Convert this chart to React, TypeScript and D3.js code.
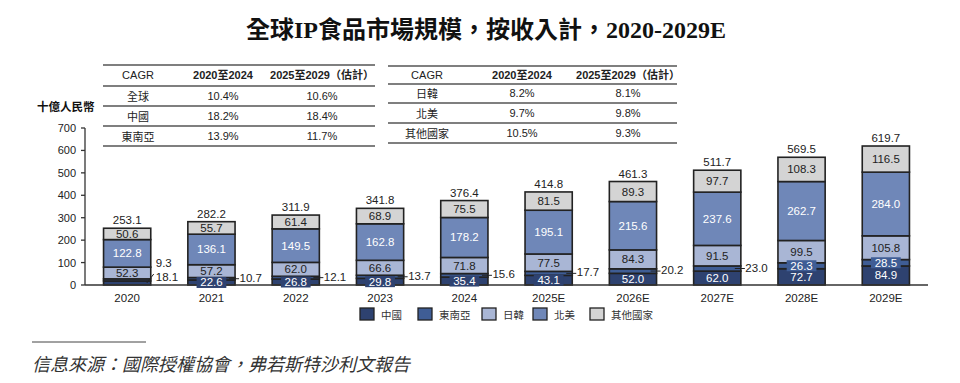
import React from 'react';
import * as d3 from 'd3';

const years = ['2020', '2021', '2022', '2023', '2024', '2025E', '2026E', '2027E', '2028E', '2029E'];
const china = [18.1, 22.6, 26.8, 29.8, 35.4, 43.1, 52.0, 62.0, 72.7, 84.9];
const seAsia = [9.3, 10.7, 12.1, 13.7, 15.6, 17.7, 20.2, 23.0, 26.3, 28.5];
const japanKorea = [52.3, 57.2, 62.0, 66.6, 71.8, 77.5, 84.3, 91.5, 99.5, 105.8];
const northAmerica = [122.8, 136.1, 149.5, 162.8, 178.2, 195.1, 215.6, 237.6, 262.7, 284.0];
const others = [50.6, 55.7, 61.4, 68.9, 75.5, 81.5, 89.3, 97.7, 108.3, 116.5];
const totals = [253.1, 282.2, 311.9, 341.8, 376.4, 414.8, 461.3, 511.7, 569.5, 619.7];
const yTicks = [0, 100, 200, 300, 400, 500, 600, 700];

const seriesKeys = ['china', 'seAsia', 'japanKorea', 'northAmerica', 'others'];
const seriesNames = ['中國', '東南亞', '日韓', '北美', '其他國家'];
const seriesColors = ['#2e4270', '#3f5d95', '#a9b6d5', '#6f87b8', '#d4d4d4'];
const seriesTextColors = ['#ffffff', '#ffffff', '#222222', '#ffffff', '#222222'];

const cagrRows1 = [
  ['全球', '10.4%', '10.6%'],
  ['中國', '18.2%', '18.4%'],
  ['東南亞', '13.9%', '11.7%'],
];
const cagrRows2 = [
  ['日韓', '8.2%', '8.1%'],
  ['北美', '9.7%', '9.8%'],
  ['其他國家', '10.5%', '9.3%'],
];
const cagrHeader = ['CAGR', '2020至2024', '2025至2029（估計）'];

const FONT = "'Liberation Sans', Arial, 'Noto Sans CJK TC', sans-serif";
const CJK = "'Noto Sans CJK TC', 'Liberation Sans', sans-serif";

export default function App() {
  const data = years.map((y, i) => ({
    year: y,
    china: china[i],
    seAsia: seAsia[i],
    japanKorea: japanKorea[i],
    northAmerica: northAmerica[i],
    others: others[i],
  }));
  const stacked = d3.stack<any>().keys(seriesKeys)(data);

  const x = d3.scaleBand<string>().domain(years).range([85, 928]).paddingInner(0.44).paddingOuter(0.22);
  const y = d3.scaleLinear().domain([0, 700]).range([285, 128]);
  const bw = x.bandwidth();

  const textW = (s: string, fs: number) => s.length * fs * 0.56;

  const table = (
    rows: string[][],
    x0: number,
    x1: number,
    colX: number[],
    lineYs: number[],
    textYs: number[]
  ) => (
    <g>
      {lineYs.map((ly, i) => (
        <line key={'l' + i} x1={x0} x2={x1} y1={ly} y2={ly} stroke="#555" strokeWidth={1.3} />
      ))}
      {cagrHeader.map((h, j) => (
        <text
          key={'h' + j}
          x={colX[j]}
          y={textYs[0]}
          textAnchor="middle"
          dominantBaseline="central"
          fontFamily={FONT}
          fontSize={11}
          fontWeight={j === 0 ? 'normal' : 'bold'}
          fill="#222"
        >
          {h}
        </text>
      ))}
      {rows.map((r, i) =>
        r.map((c, j) => (
          <text
            key={i + '-' + j}
            x={colX[j]}
            y={textYs[i + 1]}
            textAnchor="middle"
            dominantBaseline="central"
            fontFamily={j === 0 ? CJK : FONT}
            fontSize={11}
            fill="#222"
          >
            {c}
          </text>
        ))
      )}
    </g>
  );

  const legendX = [360, 418, 482, 533, 590];

  return (
    <svg
      width={960}
      height={383}
      style={{ position: 'absolute', left: 0, top: 0, background: '#fff' }}
    >
      <text
        x={486}
        y={38}
        textAnchor="middle"
        fontFamily="'Liberation Serif', 'Noto Sans CJK TC', serif"
        fontWeight="bold"
        fontSize={24}
        fill="#111"
      >
        全球IP食品市場規模，按收入計，2020-2029E
      </text>

      {table(cagrRows1, 103, 375, [138, 223, 322], [65, 86, 106, 126, 146], [75, 96, 116, 136])}
      {table(cagrRows2, 388, 677, [427, 522, 628], [66, 84, 103, 123, 143], [75, 93, 113, 133])}

      <text x={37} y={106} dominantBaseline="central" fontFamily={CJK} fontWeight="bold" fontSize={11.5} fill="#111">
        十億人民幣
      </text>

      {/* y axis */}
      <line x1={85} x2={85} y1={y(700)} y2={y(0)} stroke="#333" strokeWidth={1.3} />
      {yTicks.map((t) => (
        <g key={t}>
          <line x1={81} x2={85} y1={y(t)} y2={y(t)} stroke="#333" strokeWidth={1.3} />
          <text x={76} y={y(t)} textAnchor="end" dominantBaseline="central" fontFamily={FONT} fontSize={11} fill="#222">
            {t}
          </text>
        </g>
      ))}

      {/* bars */}
      {stacked.map((s, si) => (
        <g key={s.key}>
          {s.map((d, i) => (
            <rect
              key={i}
              x={x(years[i])!}
              y={y(d[1])}
              width={bw}
              height={y(d[0]) - y(d[1])}
              fill={seriesColors[si]}
              stroke="#222"
              strokeWidth={1.6}
            />
          ))}
        </g>
      ))}

      {/* x axis */}
      <line x1={85} x2={928} y1={y(0)} y2={y(0)} stroke="#333" strokeWidth={1.4} />
      {years.map((yr) => (
        <text
          key={yr}
          x={x(yr)! + bw / 2}
          y={298}
          textAnchor="middle"
          dominantBaseline="central"
          fontFamily={FONT}
          fontSize={11.5}
          fill="#222"
        >
          {yr}
        </text>
      ))}

      {/* segment labels */}
      {stacked.map((s, si) =>
        s.map((d, i) => {
          const val = (data[i] as any)[s.key] as number;
          const label = val.toFixed(1);
          const cx = x(years[i])! + bw / 2;
          const top = y(d[1]);
          const bot = y(d[0]);
          const cy = (top + bot) / 2;
          const h = bot - top;
          const right = x(years[i])! + bw;
          if (si === 0 && i === 0) {
            return (
              <g key={s.key + i}>
                <line x1={right - 4} y1={bot - 2} x2={right + 3} y2={bot - 11} stroke="#222" strokeWidth={1} />
                <text x={right + 5} y={277} dominantBaseline="central" fontFamily={FONT} fontSize={11.5} fill="#222">
                  {label}
                </text>
              </g>
            );
          }
          if (si === 1 && i === 0) {
            return (
              <text key={s.key + i} x={right + 5} y={263} dominantBaseline="central" fontFamily={FONT} fontSize={11.5} fill="#222">
                {label}
              </text>
            );
          }
          if (si === 1 && i <= 7) {
            return (
              <g key={s.key + i}>
                <line x1={right - 6} x2={right + 4} y1={cy} y2={cy} stroke="#222" strokeWidth={1} />
                <text x={right + 4.5} y={cy - 1} dominantBaseline="central" fontFamily={FONT} fontSize={11.5} fill="#222">
                  {label}
                </text>
              </g>
            );
          }
          const needBox = h < 11;
          const tw = textW(label, 11.5);
          return (
            <g key={s.key + i}>
              {needBox && (
                <rect x={cx - tw / 2 - 2} y={cy - 5.5} width={tw + 4} height={11} fill={seriesColors[si]} />
              )}
              <text
                x={cx}
                y={cy}
                textAnchor="middle"
                dominantBaseline="central"
                fontFamily={FONT}
                fontSize={11.5}
                fill={seriesTextColors[si]}
              >
                {label}
              </text>
            </g>
          );
        })
      )}

      {/* totals */}
      {totals.map((t, i) => (
        <text
          key={i}
          x={x(years[i])! + bw / 2}
          y={y(t) - 8}
          textAnchor="middle"
          dominantBaseline="central"
          fontFamily={FONT}
          fontSize={11.5}
          fill="#222"
        >
          {t.toFixed(1)}
        </text>
      ))}

      {/* legend */}
      {seriesNames.map((n, i) => (
        <g key={n}>
          <rect x={legendX[i]} y={308} width={14} height={12} fill={seriesColors[i]} stroke="#222" strokeWidth={1.3} />
          <text x={legendX[i] + 21} y={314} dominantBaseline="central" fontFamily={CJK} fontSize={10.5} fill="#333">
            {n}
          </text>
        </g>
      ))}

      {/* source */}
      <line x1={32} x2={146} y1={342} y2={342} stroke="#444" strokeWidth={1} />
      <text x={32} y={363} dominantBaseline="central" fontFamily={CJK} fontStyle="italic" fontSize={18} fill="#333">
        信息來源：國際授權協會，弗若斯特沙利文報告
      </text>
    </svg>
  );
}
